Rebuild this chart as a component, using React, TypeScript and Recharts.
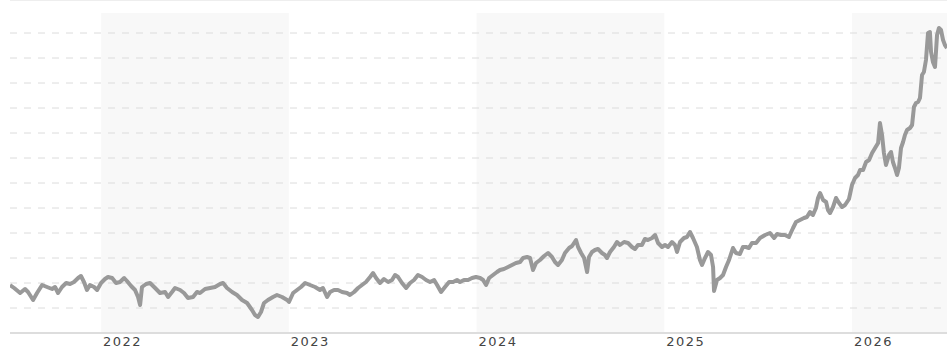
import { LineChart, Line, XAxis, YAxis, ReferenceLine, ReferenceArea } from "recharts"

// dates as decimal years, values in index points
const dates = [
    2021.515, 2021.537, 2021.569, 2021.595, 2021.611, 2021.638, 2021.659, 2021.686, 2021.712, 2021.739,
    2021.755, 2021.771, 2021.792, 2021.814, 2021.835, 2021.856, 2021.878, 2021.893, 2021.909, 2021.925,
    2021.941, 2021.963, 2021.979, 2022.0, 2022.021, 2022.037, 2022.059, 2022.08, 2022.101, 2022.123,
    2022.138, 2022.16, 2022.181, 2022.197, 2022.208, 2022.218, 2022.24, 2022.261, 2022.288, 2022.314,
    2022.341, 2022.357, 2022.378, 2022.394, 2022.421, 2022.442, 2022.463, 2022.49, 2022.511, 2022.527,
    2022.554, 2022.581, 2022.607, 2022.634, 2022.65, 2022.671, 2022.698, 2022.724, 2022.751, 2022.778,
    2022.804, 2022.82, 2022.836, 2022.852, 2022.868, 2022.889, 2022.916, 2022.937, 2022.964, 2022.991,
    2023.001, 2023.023, 2023.044, 2023.065, 2023.087, 2023.113, 2023.14, 2023.166, 2023.182, 2023.204,
    2023.22, 2023.241, 2023.262, 2023.284, 2023.31, 2023.326, 2023.348, 2023.369, 2023.39, 2023.411,
    2023.433, 2023.449, 2023.465, 2023.486, 2023.507, 2023.529, 2023.55, 2023.566, 2023.582, 2023.603,
    2023.625, 2023.646, 2023.667, 2023.688, 2023.71, 2023.731, 2023.752, 2023.774, 2023.79, 2023.811,
    2023.832, 2023.854, 2023.875, 2023.896, 2023.912, 2023.933, 2023.955, 2023.976, 2023.997, 2024.019,
    2024.035, 2024.051, 2024.067, 2024.088, 2024.109, 2024.125, 2024.146, 2024.168, 2024.189, 2024.21,
    2024.232, 2024.248, 2024.269, 2024.285, 2024.301, 2024.317, 2024.338, 2024.36, 2024.381, 2024.402,
    2024.418, 2024.434, 2024.455, 2024.471, 2024.493, 2024.509, 2024.53, 2024.541, 2024.557, 2024.573,
    2024.589, 2024.599, 2024.615, 2024.631, 2024.647, 2024.668, 2024.684, 2024.695, 2024.711, 2024.732,
    2024.748, 2024.764, 2024.786, 2024.807, 2024.828, 2024.844, 2024.86, 2024.881, 2024.897, 2024.913,
    2024.935, 2024.951, 2024.967, 2024.988, 2025.004, 2025.02, 2025.041, 2025.057, 2025.068, 2025.084,
    2025.105, 2025.121, 2025.137, 2025.153, 2025.174, 2025.19, 2025.201, 2025.217, 2025.233, 2025.249,
    2025.26, 2025.265, 2025.281, 2025.297, 2025.313, 2025.329, 2025.345, 2025.366, 2025.382, 2025.403,
    2025.419, 2025.435, 2025.451, 2025.467, 2025.489, 2025.51, 2025.537, 2025.563, 2025.585, 2025.601,
    2025.622, 2025.643, 2025.664, 2025.686, 2025.702, 2025.723, 2025.744, 2025.76, 2025.776, 2025.792,
    2025.808, 2025.819, 2025.83, 2025.846, 2025.862, 2025.872, 2025.883, 2025.899, 2025.915, 2025.931,
    2025.947, 2025.963, 2025.984, 2026.0, 2026.016, 2026.032, 2026.043, 2026.059, 2026.075, 2026.091,
    2026.107, 2026.123, 2026.139, 2026.149, 2026.16, 2026.17, 2026.181, 2026.197, 2026.208, 2026.218,
    2026.229, 2026.24, 2026.25, 2026.261, 2026.272, 2026.282, 2026.293, 2026.309, 2026.32, 2026.33,
    2026.341, 2026.352, 2026.362, 2026.373, 2026.383, 2026.394, 2026.405, 2026.415, 2026.421, 2026.431,
    2026.442, 2026.453, 2026.463, 2026.474, 2026.485, 2026.495, 2026.506,
]

const values = [
    19.2, 18.0, 16.0, 17.6, 16.4, 13.2, 16.0, 19.2, 18.4, 17.6,
    18.4, 16.0, 18.4, 20.0, 19.6, 20.4, 22.0, 22.8, 20.4, 17.2,
    19.2, 18.4, 17.2, 20.0, 21.6, 22.4, 22.0, 20.0, 20.4, 22.0,
    20.8, 18.8, 17.2, 14.4, 11.2, 18.4, 19.6, 20.0, 18.0, 16.0,
    16.4, 14.4, 16.4, 18.0, 17.2, 16.0, 14.0, 14.4, 16.4, 16.0,
    17.6, 18.0, 18.4, 19.6, 20.0, 18.0, 16.4, 15.2, 13.2, 12.0,
    9.2, 7.2, 6.4, 8.4, 12.0, 13.2, 14.4, 15.2, 14.4, 13.2,
    12.4, 16.0, 17.2, 18.4, 20.0, 19.2, 18.4, 17.2, 18.0, 14.4,
    16.4, 17.2, 17.2, 16.4, 16.0, 15.2, 16.4, 18.0, 19.2, 20.4,
    22.4, 24.0, 22.0, 20.0, 21.6, 20.4, 21.2, 23.2, 22.4, 20.0,
    18.0, 20.0, 21.2, 23.2, 22.4, 21.2, 20.4, 21.2, 19.2, 16.4,
    18.4, 20.4, 20.4, 21.2, 20.4, 21.2, 21.2, 22.0, 22.4, 22.0,
    21.2, 19.2, 22.0, 23.2, 24.4, 25.2, 25.6, 26.4, 27.2, 28.0,
    28.4, 30.0, 30.4, 30.0, 25.2, 28.0, 29.2, 30.8, 32.0, 30.4,
    28.4, 27.2, 29.2, 32.0, 34.0, 34.8, 37.2, 34.4, 32.0, 30.0,
    24.4, 30.4, 32.4, 33.2, 33.6, 32.0, 31.2, 30.0, 32.4, 34.4,
    36.4, 35.2, 36.4, 36.0, 34.4, 33.6, 35.2, 35.2, 37.6, 37.2,
    38.0, 39.2, 36.0, 34.4, 35.2, 34.4, 36.4, 35.2, 32.4, 36.4,
    38.0, 38.4, 40.4, 38.0, 34.4, 29.2, 27.2, 30.0, 32.4, 31.2,
    26.4, 16.8, 21.2, 22.0, 23.2, 26.4, 29.2, 34.0, 32.0, 31.6,
    34.4, 34.4, 34.0, 36.0, 36.0, 38.0, 39.2, 40.0, 38.0, 39.6,
    39.2, 39.2, 38.4, 42.0, 44.4, 45.2, 46.0, 46.4, 48.4, 47.2,
    50.0, 54.0, 56.0, 53.2, 52.4, 49.2, 48.0, 50.4, 54.0, 52.0,
    50.4, 51.2, 53.6, 59.2, 62.0, 63.2, 65.2, 65.2, 68.4, 69.2,
    72.0, 74.0, 76.0, 84.0, 79.2, 72.0, 67.2, 71.2, 72.4, 68.4,
    66.0, 63.2, 66.0, 74.0, 76.4, 79.2, 81.2, 82.0, 83.2, 90.4,
    92.0, 92.4, 94.0, 103.2, 104.4, 109.2, 120.0, 120.4, 112.4, 108.4,
    106.4, 119.2, 122.0, 121.2, 117.2, 115.2, 114.0,
]

const years = [2022, 2023, 2024, 2025, 2026]
const shadedYears = [2022, 2024, 2026]
const gridTicks = [10, 20, 30, 40, 50, 60, 70, 80, 90, 100, 110, 120]

const data = dates.map((t, i) => ({ t, v: values[i] }))

const xStart = dates[0]
const xEnd = dates[dates.length - 1]

function YearTick({ x, y, payload }: any) {
    return (
        <text
            x={x + 2}
            y={y + 13}
            textAnchor="start"
            fontSize={13}
            fontFamily="DejaVu Sans, Verdana, sans-serif"
            letterSpacing={1.5}
            fill="#444"
        >
            {payload.value}
        </text>
    )
}

export default function App() {
    return (
        <div style={{ position: "absolute", left: 0, top: 0, width: 947, height: 350, background: "#fff" }}>
            <div style={{ position: "absolute", left: 10, top: 0, width: 937, height: 1, background: "#eeeeee" }} />
            <LineChart
                width={947}
                height={350}
                data={data}
                margin={{ top: 13, right: 0, bottom: 0, left: 10 }}
            >
                {gridTicks.map((v) => (
                    <ReferenceLine
                        key={v}
                        y={v}
                        stroke="#dcdcdc"
                        strokeDasharray="7 7"
                    />
                ))}
                {shadedYears.map((yr) => (
                    <ReferenceArea
                        key={yr}
                        x1={yr}
                        x2={Math.min(yr + 1, xEnd)}
                        fill="#eeeeee"
                        fillOpacity={0.4}
                        strokeOpacity={0}
                        ifOverflow="hidden"
                    />
                ))}
                <XAxis
                    dataKey="t"
                    type="number"
                    domain={[xStart, xEnd]}
                    ticks={years}
                    allowDataOverflow
                    height={17}
                    tickLine={false}
                    tickSize={0}
                    tickMargin={0}
                    axisLine={{ stroke: "#dddddd", strokeWidth: 2 }}
                    tick={<YearTick />}
                    interval={0}
                />
                <YAxis
                    hide
                    type="number"
                    domain={[0, 128]}
                    ticks={gridTicks}
                    allowDataOverflow
                />
                <Line
                    type="linear"
                    dataKey="v"
                    stroke="#999999"
                    strokeWidth={4}
                    strokeLinejoin="round"
                    dot={false}
                    activeDot={false}
                    isAnimationActive={false}
                />
            </LineChart>
        </div>
    )
}
